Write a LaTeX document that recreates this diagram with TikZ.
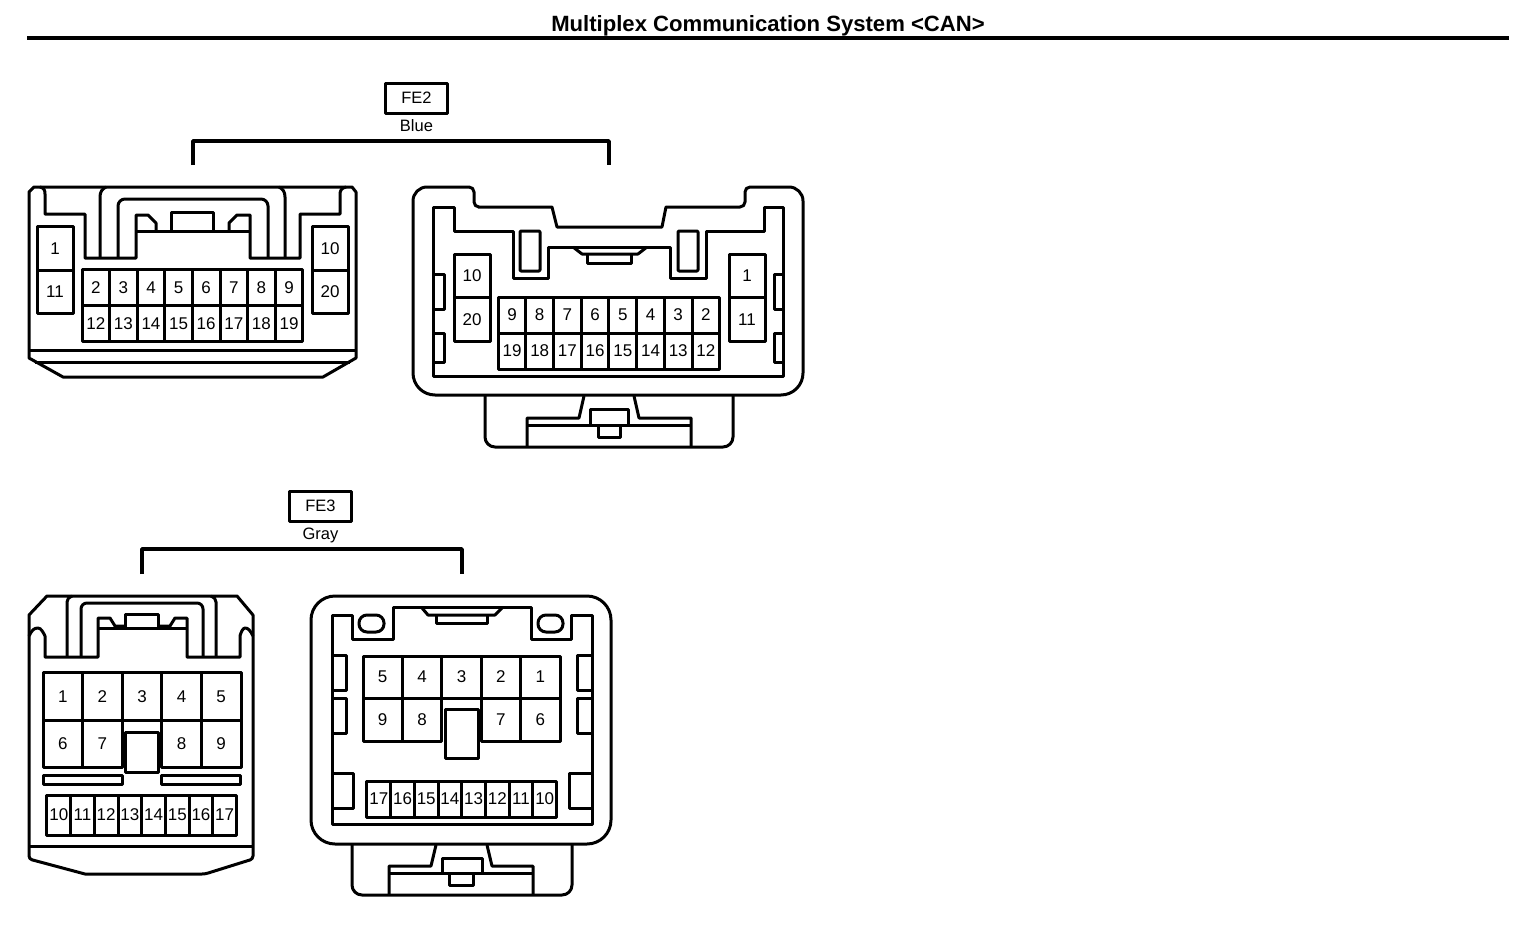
\documentclass[tikz,border=0pt]{standalone}
\usepackage{fontspec}
\setmainfont{Liberation Sans}
\newcommand{\pinfont}{\fontsize{17}{17}\selectfont}
\newcommand{\tagfont}{\fontsize{16.5}{17}\selectfont}
\newcommand{\headfont}{\fontsize{22.1}{22}\selectfont\bfseries}

\begin{document}
\begin{tikzpicture}[
            x = 1pt, y = -1pt, % picture in reference pixels, y goes down
            line join = round,
            outline/.style = {draw, line width = 3pt},
            cell/.style = {draw, line width = 3pt, inner sep = 0pt, font = \pinfont},
            tagbox/.style = {draw, line width = 3pt, inner sep = 0pt,
                minimum width = 62pt, minimum height = 30pt, font = \tagfont},
            tagtext/.style = {inner sep = 0pt, text depth = 0pt, font = \tagfont},
            bracket/.style = {draw, line width = 3.5pt}
        ]

        \useasboundingbox[fill = white] (0, 0) rectangle (1536, 926);

        % heading
        \node[inner sep = 0pt, text depth = 0pt, font = \headfont] (head) at (768, 23) {Multiplex Communication System <CAN>};
        \coordinate (rulel) at (27, 38);
        \coordinate (ruler) at (1509, 38);
        \draw[line width = 4pt] (rulel) -- (ruler);

        % FE2 tag
        \node[tagbox] (fe2) at (416.5, 98) {FE2};
        \node[tagtext] (blue) at (416.5, 125.5) {Blue};
        \coordinate (fe2top) at (400, 141);
        \coordinate (fe2l) at (193, 165);
        \coordinate (fe2r) at (609, 165);
        \draw[bracket] (fe2l) |- (fe2top) -| (fe2r);

        % FE3 tag
        \node[tagbox] (fe3) at (320.5, 506) {FE3};
        \node[tagtext] (gray) at (320.5, 533.5) {Gray};
        \coordinate (fe3top) at (300, 549);
        \coordinate (fe3l) at (142, 574);
        \coordinate (fe3r) at (462, 574);
        \draw[bracket] (fe3l) |- (fe3top) -| (fe3r);

        % FE2 left
        \draw[outline] (34, 187) -- (352, 187) -- (356, 192) -- (356, 358) -- (323, 377)
            -- (63, 377) -- (29, 358) -- (29, 192) -- cycle;
        \draw[outline] (29, 350) -- (356, 350);
        \draw[outline] (35, 362) -- (350, 362);
        \draw[outline] (40, 187) .. controls (44, 188) and (45, 190) .. (45, 194) -- (45, 214) -- (85, 214)
            -- (85, 258) -- (136, 258) -- (136, 215) -- (148, 215) -- (156, 223) -- (156, 231);
        \draw[outline] (346, 187) .. controls (342, 188) and (340, 190) .. (340, 194) -- (340, 214) -- (300, 214)
            -- (300, 258) -- (250, 258) -- (250, 215) -- (237, 215) -- (229, 223) -- (229, 231);
        \draw[outline] (136, 231) -- (250, 231);
        \draw[outline] (171, 231) -- (171, 212) -- (213, 212) -- (213, 231);
        \draw[outline] (100, 258) -- (100, 197) .. controls (100, 192) and (102, 189) .. (106, 187);
        \draw[outline] (285, 258) -- (285, 197) .. controls (285, 192) and (283, 189) .. (279, 187);
        \draw[outline, rounded corners = 7pt] (118, 258) -- (118, 199) -- (268, 199) -- (268, 258);

        \node[cell, minimum width = 36pt, minimum height = 43.5pt] (la1) at (55, 248.5) {1};
        \node[cell, minimum width = 36pt, minimum height = 43.5pt] (la11) at (55, 292) {11};
        \node[cell, minimum width = 36pt, minimum height = 43.5pt] (la10) at (330, 248.5) {10};
        \node[cell, minimum width = 36pt, minimum height = 43.5pt] (la20) at (330, 292) {20};
        \foreach \n [count = \c from 0] in {2, ..., 9}
            \node[cell, minimum width = 27.6pt, minimum height = 36pt] (la\n) at (95.8 + 27.6 * \c, 287.5) {\n};
        \foreach \n [count = \c from 0] in {12, ..., 19}
            \node[cell, minimum width = 27.6pt, minimum height = 36pt] (la\n) at (95.8 + 27.6 * \c, 323.5) {\n};

        % FE2 right
        \draw[outline] (440, 187) -- (468, 187) [rounded corners = 5pt] -- (474, 187)
            -- (474, 207) [sharp corners] -- (478, 207) -- (552, 207) -- (557, 227) -- (662, 227) -- (666, 207) -- (740, 207)
            [rounded corners = 5pt] -- (745, 207) -- (745, 187) [rounded corners = 14pt] -- (803, 187)
            [rounded corners = 22pt] -- (803, 395) -- (413, 395) [rounded corners = 14pt] -- (413, 187) -- cycle;
        \draw[outline] (433, 207) -- (454, 207) -- (454, 231) -- (513, 231) -- (513, 278) -- (548, 278) -- (548, 247)
            -- (670, 247) -- (670, 278) -- (706, 278) -- (706, 231) -- (764, 231) -- (764, 207) -- (783, 207)
            -- (783, 376) -- (433, 376) -- cycle;
        \draw[outline, rounded corners = 1pt] (520, 231) rectangle (540, 271);
        \draw[outline, rounded corners = 1pt] (678, 231) rectangle (698, 271);
        \draw[outline] (573, 247) -- (582, 254) -- (638, 254) -- (647, 247);
        \draw[outline] (587, 254) -- (587, 263) -- (631, 263) -- (631, 254);
        \draw[outline] (433, 274) -- (444, 274) -- (444, 309) -- (433, 309);
        \draw[outline] (433, 333) -- (444, 333) -- (444, 362) -- (433, 362);
        \draw[outline] (783, 274) -- (774, 274) -- (774, 309) -- (783, 309);
        \draw[outline] (783, 333) -- (774, 333) -- (774, 362) -- (783, 362);

        \draw[outline, rounded corners = 10pt] (485, 395) -- (485, 447) -- (733, 447) -- (733, 395);
        \draw[outline] (527, 447) -- (527, 418) -- (579, 418) -- (584, 396);
        \draw[outline] (691, 447) -- (691, 418) -- (639, 418) -- (634, 396);
        \draw[outline] (527, 425) -- (691, 425);
        \draw[outline] (590, 425) -- (590, 409) -- (628, 409) -- (628, 425);
        \draw[outline] (598, 425) -- (598, 437) -- (620, 437) -- (620, 425);

        \node[cell, minimum width = 36pt, minimum height = 43.5pt] (lb10) at (472, 276) {10};
        \node[cell, minimum width = 36pt, minimum height = 43.5pt] (lb20) at (472, 319.5) {20};
        \node[cell, minimum width = 36pt, minimum height = 43.5pt] (lb1) at (747, 276) {1};
        \node[cell, minimum width = 36pt, minimum height = 43.5pt] (lb11) at (747, 319.5) {11};
        \foreach \n [count = \c from 0] in {9, 8, ..., 2}
            \node[cell, minimum width = 27.7pt, minimum height = 36pt] (lb\n) at (512 + 27.7 * \c, 315) {\n};
        \foreach \n [count = \c from 0] in {19, 18, ..., 12}
            \node[cell, minimum width = 27.7pt, minimum height = 36pt] (lb\n) at (512 + 27.7 * \c, 351) {\n};

        % FE3 left
        \draw[outline] (29, 615) -- (47, 596) -- (237, 596) -- (253, 615) -- (253, 855) [rounded corners = 3pt] -- (253, 859)
            -- (205, 874) [sharp corners] -- (85, 874) [rounded corners = 3pt] -- (29, 859) [sharp corners] -- (29, 855) -- cycle;
        \draw[outline] (29, 846) -- (253, 846);
        \draw[outline] (29, 636) .. controls (32, 630) and (34, 628) .. (38, 628) .. controls (41, 628) and (43, 632) .. (45, 636)
            -- (45, 657) -- (98, 657) -- (98, 618) -- (110, 618) -- (115, 626) -- (126, 626);
        \draw[outline] (253, 636) .. controls (250, 630) and (248, 628) .. (245, 628) .. controls (243, 628) and (241, 632) .. (240, 636)
            -- (240, 657) -- (187, 657) -- (187, 618) -- (175, 618) -- (170, 626) -- (158, 626);
        \draw[outline] (98, 628) -- (187, 628);
        \draw[outline] (125, 628) -- (125, 614) -- (158, 614) -- (158, 628);
        \draw[outline] (67, 657) -- (67, 602) .. controls (67, 599) and (69, 597) .. (72, 596);
        \draw[outline] (216, 657) -- (216, 602) .. controls (216, 599) and (214, 597) .. (211, 596);
        \draw[outline, rounded corners = 6pt] (81, 657) -- (81, 603) -- (203, 603) -- (203, 657);

        \foreach \n [count = \c from 0] in {1, ..., 5}
            \node[cell, minimum width = 39.6pt, minimum height = 47.5pt] (ra\n) at (62.8 + 39.6 * \c, 696.5) {\n};
        \foreach \n/\c in {6/0, 7/1, 8/3, 9/4}
            \node[cell, minimum width = 39.6pt, minimum height = 47.5pt] (ra\n) at (62.8 + 39.6 * \c, 744) {\n};
        \node[draw, line width = 3pt, minimum width = 33pt, minimum height = 40pt, fill = white] (ramid) at (141.5, 752) {};
        \node[draw, line width = 3pt, minimum width = 79pt, minimum height = 9pt, inner sep = 0pt] (rabarl) at (82.5, 779.5) {};
        \node[draw, line width = 3pt, minimum width = 79pt, minimum height = 9pt, inner sep = 0pt] (rabarr) at (200.5, 779.5) {};
        \foreach \n [count = \c from 0] in {10, ..., 17}
            \node[cell, minimum width = 23.7pt, minimum height = 40pt] (ra\n) at (58.8 + 23.7 * \c, 815) {\n};

        % FE3 right
        \draw[outline, rounded corners = 24pt] (311, 596) rectangle (611, 844);
        \draw[outline] (332, 615) -- (352, 615) -- (352, 639) -- (393, 639) -- (393, 607) -- (531, 607) -- (531, 639)
            -- (571, 639) -- (571, 615) -- (592, 615) -- (592, 824) -- (332, 824) -- cycle;
        \node[draw, line width = 3pt, rounded corners = 8pt, minimum width = 25pt, minimum height = 17pt, inner sep = 0pt] (ovall) at (371.5, 623.5) {};
        \node[draw, line width = 3pt, rounded corners = 8pt, minimum width = 25pt, minimum height = 17pt, inner sep = 0pt] (ovalr) at (550.5, 623.5) {};
        \draw[outline] (422, 608) -- (428, 615) -- (495, 615) -- (502, 608);
        \draw[outline] (436, 615) -- (436, 623) -- (487, 623) -- (487, 615);
        \draw[outline] (332, 655) -- (346, 655) -- (346, 690) -- (332, 690);
        \draw[outline] (332, 698) -- (346, 698) -- (346, 733) -- (332, 733);
        \draw[outline] (332, 773) -- (353, 773) -- (353, 808) -- (332, 808);
        \draw[outline] (592, 655) -- (577, 655) -- (577, 690) -- (592, 690);
        \draw[outline] (592, 698) -- (577, 698) -- (577, 733) -- (592, 733);
        \draw[outline] (592, 773) -- (569, 773) -- (569, 808) -- (592, 808);

        \draw[outline, rounded corners = 10pt] (352, 844) -- (352, 895) -- (572, 895) -- (572, 844);
        \draw[outline] (389, 895) -- (389, 866) -- (431, 866) -- (436, 845);
        \draw[outline] (533, 895) -- (533, 866) -- (492, 866) -- (487, 845);
        \draw[outline] (389, 873) -- (533, 873);
        \draw[outline] (442, 873) -- (442, 858) -- (482, 858) -- (482, 873);
        \draw[outline] (449, 873) -- (449, 885) -- (473, 885) -- (473, 873);

        \foreach \n [count = \c from 0] in {5, 4, 3, 2, 1}
            \node[cell, minimum width = 39.4pt, minimum height = 42pt] (rb\n) at (382.7 + 39.4 * \c, 677) {\n};
        \foreach \n/\c in {9/0, 8/1, 7/3, 6/4}
            \node[cell, minimum width = 39.4pt, minimum height = 43pt] (rb\n) at (382.7 + 39.4 * \c, 719.5) {\n};
        \node[draw, line width = 3pt, minimum width = 33pt, minimum height = 49pt, fill = white] (rbmid) at (461.5, 733.5) {};
        \foreach \n [count = \c from 0] in {17, 16, ..., 10}
            \node[cell, minimum width = 23.7pt, minimum height = 36pt] (rb\n) at (378.8 + 23.7 * \c, 799) {\n};

    \end{tikzpicture}
\end{document}
